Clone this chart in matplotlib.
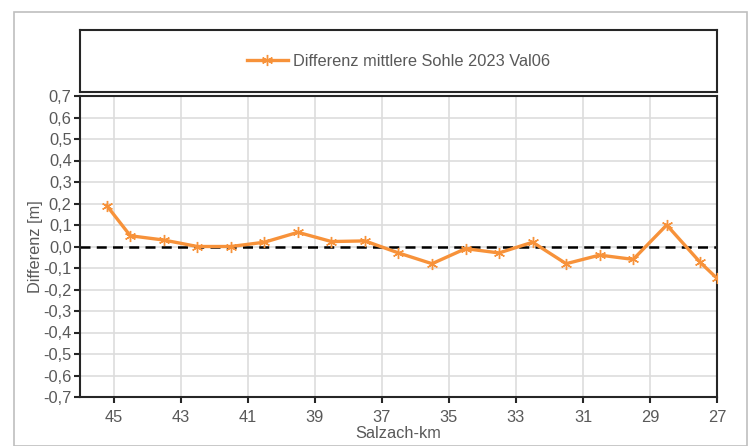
import matplotlib
matplotlib.use("Agg")
import matplotlib.pyplot as plt
from matplotlib.patches import Rectangle
from matplotlib.ticker import FuncFormatter, FixedLocator
from matplotlib.lines import Line2D

km = [45.2, 44.5, 43.5, 42.5, 41.5, 40.5, 39.5, 38.5, 37.5, 36.5, 35.5,
      34.5, 33.5, 32.5, 31.5, 30.5, 29.5, 28.5, 27.5, 27.0]
diff = [0.19, 0.05, 0.03, 0.00, 0.00, 0.02, 0.066, 0.023, 0.026, -0.03, -0.08,
        -0.01, -0.03, 0.02, -0.08, -0.04, -0.06, 0.10, -0.074, -0.148]
x_ticks = [45, 43, 41, 39, 37, 35, 33, 31, 29, 27]
series_label = "Differenz mittlere Sohle 2023 Val06"

plt.rcParams['font.family'] = ['Liberation Sans', 'DejaVu Sans']
W, H = 752, 446
fig = plt.figure(figsize=(W / 100, H / 100), dpi=100)
grey_txt = '#595959'
orange = '#F7923A'
fs = 11.8

# outer chart border
fig.patches.append(Rectangle((14 / W, 0), (747 - 14) / W, 1 - 12 / H, transform=fig.transFigure,
                             fill=False, edgecolor='#BFBFBF', linewidth=1.2))

def fx(p):
    return p / W

def fy(p):
    return 1 - p / H

ax = fig.add_axes([fx(80), fy(397), (717 - 80) / W, (397 - 96) / H])
ax.plot(km, diff, color=orange, linewidth=2.4, marker=(6, 2, 0), markersize=8,
        markeredgewidth=1.0, markeredgecolor=orange, zorder=3)
ax.axhline(0, color='black', linestyle=(0, (4, 2.5)), linewidth=1.8, zorder=2)

ax.set_xlim(46, 27)
ax.set_ylim(-0.7, 0.7)
ax.xaxis.set_major_locator(FixedLocator(x_ticks))
ax.yaxis.set_major_locator(FixedLocator([i / 10 for i in range(-7, 8)]))
ax.yaxis.set_major_formatter(FuncFormatter(lambda v, p: f"{v:.1f}".replace('.', ',').replace('-0,0', '0,0')))
ax.xaxis.set_major_formatter(FuncFormatter(lambda v, p: f"{int(round(v))}"))
ax.grid(True, color='#DDDDDD', linewidth=1.2, zorder=0)
ax.set_axisbelow(True)
for s in ax.spines.values():
    s.set_color('#262626')
    s.set_linewidth(1.5)
ax.tick_params(direction='out', length=4, width=1.5, color='#262626',
               labelcolor=grey_txt, labelsize=fs, pad=5)
ax.tick_params(axis='y', pad=2)
ax.set_xlabel('Salzach-km', color=grey_txt, fontsize=fs, labelpad=1)
ax.set_ylabel('Differenz [m]', color=grey_txt, fontsize=fs, labelpad=0)

# legend box
lax = fig.add_axes([fx(80), fy(92), (717 - 80) / W, (92 - 30) / H])
lax.set_xticks([])
lax.set_yticks([])
for s in lax.spines.values():
    s.set_color('#262626')
    s.set_linewidth(1.5)
handle = Line2D([], [], color=orange, linewidth=2.4, marker=(6, 2, 0), markersize=8,
                markeredgewidth=1.0)
lax.legend([handle], [series_label], loc='center', frameon=False, fontsize=fs,
           labelcolor=grey_txt, handlelength=2.5, handletextpad=0.3)

fig.savefig('out.png', dpi=100)
